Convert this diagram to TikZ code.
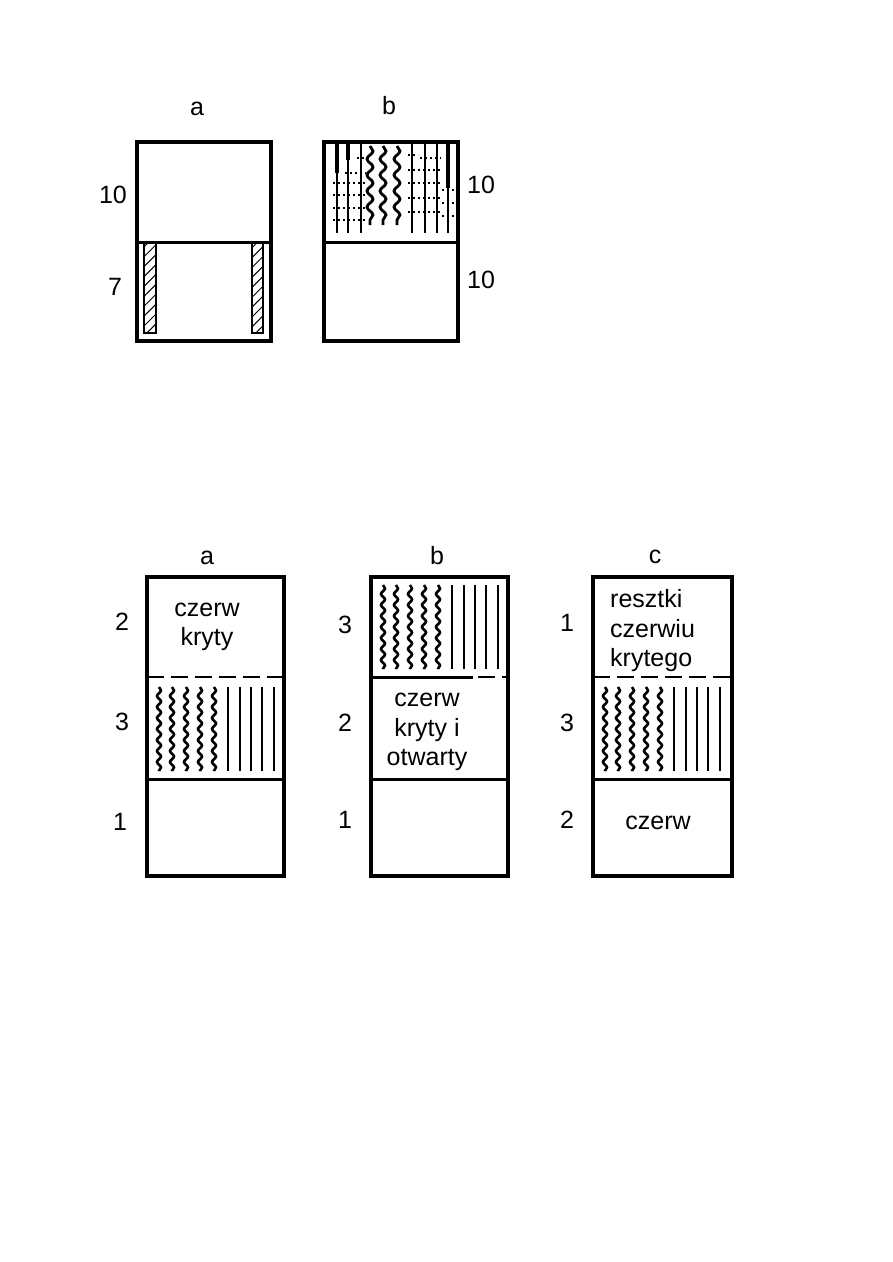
\documentclass[tikz,border=0pt]{standalone}
\usepackage{fontspec}
\setmainfont{Liberation Sans}
\usetikzlibrary{decorations.pathmorphing,patterns.meta}

\newcommand{\combcells}[3]{%
  \foreach \dx in {12,25,39,53,67}
    \draw[wavy] (#1+\dx,#2) -- (#1+\dx,#3);
  \foreach \dx in {81,93,104,115,127}
    \draw[cell] (#1+\dx,#2) -- (#1+\dx,#3);
}

\begin{document}
\begin{tikzpicture}[x=1pt, y=-1pt,
    every node/.style={font=\fontsize{25}{29.5}\selectfont, inner sep=0pt},
    title/.style={anchor=base},
    frame/.style={draw, line width=3.6pt},
    split/.style={line width=3pt},
    wavy/.style={line width=2.6pt, decorate, decoration={snake, segment length=11pt, amplitude=2pt}},
    bigwavy/.style={line width=2.8pt, decorate, decoration={snake, segment length=16pt, amplitude=3pt}},
    cell/.style={line width=2pt},
    divider/.style={line width=2.4pt, dash pattern=on 17pt off 7pt},
    dots/.style={line width=2.4pt, dash pattern=on 2pt off 3pt},
    hatch/.style={draw, line width=1.4pt, pattern={Lines[angle=45, distance=7pt, line width=1pt]}}
]
\useasboundingbox (0,0) rectangle (893,1262);

% upper pair
\node[title] (ta) at (197,115) {a};
\node[title] (tb) at (389,114) {b};
\node (ta10) at (113,195) {10};
\node (ta7) at (115,287) {7};
\node (tb10u) at (481,185) {10};
\node (tb10l) at (481,280) {10};

\draw[hatch] (144,242) rectangle (156,333);
\draw[hatch] (252,242) rectangle (263,333);
\draw[split] (137,242) -- (271,242);
\draw[frame] (137,142) rectangle (271,341);

\foreach \x in {337,348,361,412,425,437,448}
  \draw[cell] (\x,142) -- (\x,233);
\draw[line width=4.5pt] (337,142) -- (337,173);
\draw[line width=4.5pt] (348,142) -- (348,160);
\draw[line width=4.5pt] (448,142) -- (448,188);
\foreach \x in {370,383,397}
  \draw[bigwavy] (\x,146) -- (\x,225);
\foreach \y in {183,195,208,220}
  \draw[dots] (333,\y) -- (366,\y);
\draw[dots] (345,173) -- (366,173);
\draw[dots] (357,158) -- (366,158);
\draw[dots] (408,155) -- (418,155);
\draw[dots] (420,158) -- (441,158);
\foreach \y in {170,183,198,212}
  \draw[dots] (408,\y) -- (441,\y);
\foreach \y in {190,203,216}
  \draw[dots] (442,\y) -- (454,\y);
\draw[split] (324,242) -- (458,242);
\draw[frame] (324,142) rectangle (458,341);

% lower three combs
\node[title] (la) at (207,564) {a};
\node[title] (lb) at (437,564) {b};
\node[title] (lc) at (655,563) {c};

\node (a2) at (122,622) {2};
\node (a3) at (122,722) {3};
\node (a1) at (120,822) {1};
\node (b3) at (345,625) {3};
\node (b2) at (345,723) {2};
\node (b1) at (345,820) {1};
\node (c1) at (567,623) {1};
\node (c3) at (567,723) {3};
\node (c2) at (567,820) {2};

\node[align=center] (acap) at (207,627) {czerw\\kryty};
\node[align=center] (bcap) at (427,732) {czerw\\kryty i\\otwarty};
\node[align=left, anchor=west] (crest) at (610,631) {resztki\\czerwiu\\krytego};
\node (copen) at (658,823) {czerw};

% a
\combcells{147}{687}{771}
\draw[divider] (147,677) -- (284,677);
\draw[split] (147,779) -- (284,779);
\draw[frame] (147,577) rectangle (284,876);

% b
\combcells{371}{585}{669}
\draw[split] (371,677) -- (473,677);
\draw[divider] (478,677) -- (508,677);
\draw[split] (371,779) -- (508,779);
\draw[frame] (371,577) rectangle (508,876);

% c
\combcells{593}{687}{771}
\draw[divider] (593,677) -- (732,677);
\draw[split] (593,779) -- (732,779);
\draw[frame] (593,577) rectangle (732,876);
\end{tikzpicture}
\end{document}
